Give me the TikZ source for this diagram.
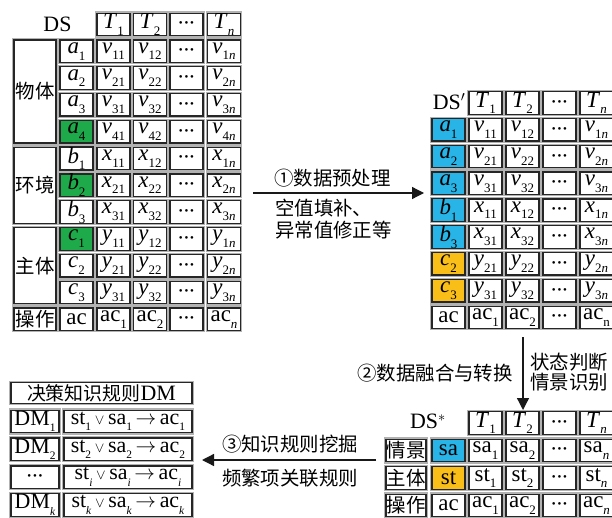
\documentclass[tikz,border=0pt]{standalone}
\usepackage{fontspec}
\setmainfont{Liberation Serif}
\newfontfamily\cjk{Noto Sans CJK SC}
\usetikzlibrary{arrows.meta}
\definecolor{cgreen}{RGB}{30,170,75}
\definecolor{ccyan}{RGB}{40,180,230}
\definecolor{camber}{RGB}{250,190,25}
\newcommand\SB[1]{\raisebox{-0.3em}{\fontsize{13}{13}\selectfont #1}}
\newcommand\SR[1]{\raisebox{-0.3em}{\fontsize{11.5}{11.5}\selectfont #1}}
\newcommand\IV[2]{\textit{#1}\SB{#2}}
\newcommand\RV[2]{#1\SB{#2}}
\newcommand\RR[2]{#1\SR{#2}}
\newcommand\DOTS{{\fontsize{11}{11}\selectfont\textbullet\,\textbullet\,\textbullet}}
\newcommand\OR{\,{\fontsize{14}{14}\selectfont$\vee$}\,}
\newcommand\TO{\,$\rightarrow$\,}
\tikzset{
  cellbox/.style={draw=black!85, line width=1.3bp, fill=white, minimum width=33bp,
    minimum height=22.5bp, inner sep=0pt, font=\fontsize{23}{23}\selectfont,
    preaction={draw=black!30, line width=3.6bp}},
  rulebox/.style={cellbox, font=\fontsize{22}{22}\selectfont},
  cjkbox/.style={cellbox, font=\cjk\fontsize{19.5}{20}\selectfont},
  cjklab/.style={font=\cjk\fontsize{19.5}{22}\selectfont, inner sep=0pt},
  titletext/.style={font=\fontsize{22}{22}\selectfont, inner sep=0pt},
  flow/.style={draw=black!90, line width=1.3bp, -{Triangle[length=12bp,width=12bp]}}
}
\begin{document}
\begin{tikzpicture}[x=1bp,y=-1bp]
\useasboundingbox (0,0) rectangle (612,518);
% ---------------- Table DS ----------------
\node[titletext] (dsA) at (57.5,24.5) {DS};
\node[cellbox] (A-0-1) at (113.5,24.5) {\IV{T}{1}};
\node[cellbox] (A-0-2) at (150,24.5) {\IV{T}{2}};
\node[cellbox] (A-0-3) at (186.5,24.5) {\DOTS};
\node[cellbox] (A-0-4) at (224,24.5) {\IV{T}{\textit{n}}};
% groups
\node[cjkbox, minimum width=42bp, minimum height=102.9bp] (gA1) at (35,91.5) {物体};
\node[cjkbox, minimum width=42bp, minimum height=76.1bp] (gA2) at (35,185.3) {环境};
\node[cjkbox, minimum width=42bp, minimum height=76.1bp] (gA3) at (35,265.7) {主体};
\node[cjkbox, minimum width=42bp] (gA4) at (35,319.3) {操作};
% rows
\node[cellbox] (A-1-0) at (76.5,51.3) {\IV{a}{1}};
\node[cellbox] (A-1-1) at (113.5,51.3) {\IV{v}{11}};
\node[cellbox] (A-1-2) at (150,51.3) {\IV{v}{12}};
\node[cellbox] (A-1-3) at (186.5,51.3) {\DOTS};
\node[cellbox] (A-1-4) at (224,51.3) {\IV{v}{1\textit{n}}};
\node[cellbox] (A-2-0) at (76.5,78.1) {\IV{a}{2}};
\node[cellbox] (A-2-1) at (113.5,78.1) {\IV{v}{21}};
\node[cellbox] (A-2-2) at (150,78.1) {\IV{v}{22}};
\node[cellbox] (A-2-3) at (186.5,78.1) {\DOTS};
\node[cellbox] (A-2-4) at (224,78.1) {\IV{v}{2\textit{n}}};
\node[cellbox] (A-3-0) at (76.5,104.9) {\IV{a}{3}};
\node[cellbox] (A-3-1) at (113.5,104.9) {\IV{v}{31}};
\node[cellbox] (A-3-2) at (150,104.9) {\IV{v}{32}};
\node[cellbox] (A-3-3) at (186.5,104.9) {\DOTS};
\node[cellbox] (A-3-4) at (224,104.9) {\IV{v}{3\textit{n}}};
\node[cellbox, fill=cgreen] (A-4-0) at (76.5,131.7) {\IV{a}{4}};
\node[cellbox] (A-4-1) at (113.5,131.7) {\IV{v}{41}};
\node[cellbox] (A-4-2) at (150,131.7) {\IV{v}{42}};
\node[cellbox] (A-4-3) at (186.5,131.7) {\DOTS};
\node[cellbox] (A-4-4) at (224,131.7) {\IV{v}{4\textit{n}}};
\node[cellbox] (A-5-0) at (76.5,158.5) {\IV{b}{1}};
\node[cellbox] (A-5-1) at (113.5,158.5) {\IV{x}{11}};
\node[cellbox] (A-5-2) at (150,158.5) {\IV{x}{12}};
\node[cellbox] (A-5-3) at (186.5,158.5) {\DOTS};
\node[cellbox] (A-5-4) at (224,158.5) {\IV{x}{1\textit{n}}};
\node[cellbox, fill=cgreen] (A-6-0) at (76.5,185.3) {\IV{b}{2}};
\node[cellbox] (A-6-1) at (113.5,185.3) {\IV{x}{21}};
\node[cellbox] (A-6-2) at (150,185.3) {\IV{x}{22}};
\node[cellbox] (A-6-3) at (186.5,185.3) {\DOTS};
\node[cellbox] (A-6-4) at (224,185.3) {\IV{x}{2\textit{n}}};
\node[cellbox] (A-7-0) at (76.5,212.1) {\IV{b}{3}};
\node[cellbox] (A-7-1) at (113.5,212.1) {\IV{x}{31}};
\node[cellbox] (A-7-2) at (150,212.1) {\IV{x}{32}};
\node[cellbox] (A-7-3) at (186.5,212.1) {\DOTS};
\node[cellbox] (A-7-4) at (224,212.1) {\IV{x}{3\textit{n}}};
\node[cellbox, fill=cgreen] (A-8-0) at (76.5,238.9) {\IV{c}{1}};
\node[cellbox] (A-8-1) at (113.5,238.9) {\IV{y}{11}};
\node[cellbox] (A-8-2) at (150,238.9) {\IV{y}{12}};
\node[cellbox] (A-8-3) at (186.5,238.9) {\DOTS};
\node[cellbox] (A-8-4) at (224,238.9) {\IV{y}{1\textit{n}}};
\node[cellbox] (A-9-0) at (76.5,265.7) {\IV{c}{2}};
\node[cellbox] (A-9-1) at (113.5,265.7) {\IV{y}{21}};
\node[cellbox] (A-9-2) at (150,265.7) {\IV{y}{22}};
\node[cellbox] (A-9-3) at (186.5,265.7) {\DOTS};
\node[cellbox] (A-9-4) at (224,265.7) {\IV{y}{2\textit{n}}};
\node[cellbox] (A-10-0) at (76.5,292.5) {\IV{c}{3}};
\node[cellbox] (A-10-1) at (113.5,292.5) {\IV{y}{31}};
\node[cellbox] (A-10-2) at (150,292.5) {\IV{y}{32}};
\node[cellbox] (A-10-3) at (186.5,292.5) {\DOTS};
\node[cellbox] (A-10-4) at (224,292.5) {\IV{y}{3\textit{n}}};
\node[cellbox] (A-11-0) at (76.5,319.3) {ac};
\node[cellbox] (A-11-1) at (113.5,319.3) {\RV{ac}{1}};
\node[cellbox] (A-11-2) at (150,319.3) {\RV{ac}{2}};
\node[cellbox] (A-11-3) at (186.5,319.3) {\DOTS};
\node[cellbox] (A-11-4) at (224,319.3) {\RV{ac}{\textit{n}}};
% ---------------- Table DS' ----------------
\node[titletext] (dsB) at (449,101.5) {DS$'$};
\node[cellbox] (B-0-1) at (485.5,103) {\IV{T}{1}};
\node[cellbox] (B-0-2) at (522.5,103) {\IV{T}{2}};
\node[cellbox] (B-0-3) at (559.5,103) {\DOTS};
\node[cellbox] (B-0-4) at (596.5,103) {\IV{T}{\textit{n}}};
\node[cellbox, fill=ccyan] (B-1-0) at (448.5,129.8) {\IV{a}{1}};
\node[cellbox] (B-1-1) at (485.5,129.8) {\IV{v}{11}};
\node[cellbox] (B-1-2) at (522.5,129.8) {\IV{v}{12}};
\node[cellbox] (B-1-3) at (559.5,129.8) {\DOTS};
\node[cellbox] (B-1-4) at (596.5,129.8) {\IV{v}{1\textit{n}}};
\node[cellbox, fill=ccyan] (B-2-0) at (448.5,156.6) {\IV{a}{2}};
\node[cellbox] (B-2-1) at (485.5,156.6) {\IV{v}{21}};
\node[cellbox] (B-2-2) at (522.5,156.6) {\IV{v}{22}};
\node[cellbox] (B-2-3) at (559.5,156.6) {\DOTS};
\node[cellbox] (B-2-4) at (596.5,156.6) {\IV{v}{2\textit{n}}};
\node[cellbox, fill=ccyan] (B-3-0) at (448.5,183.4) {\IV{a}{3}};
\node[cellbox] (B-3-1) at (485.5,183.4) {\IV{v}{31}};
\node[cellbox] (B-3-2) at (522.5,183.4) {\IV{v}{32}};
\node[cellbox] (B-3-3) at (559.5,183.4) {\DOTS};
\node[cellbox] (B-3-4) at (596.5,183.4) {\IV{v}{3\textit{n}}};
\node[cellbox, fill=ccyan] (B-4-0) at (448.5,210.2) {\IV{b}{1}};
\node[cellbox] (B-4-1) at (485.5,210.2) {\IV{x}{11}};
\node[cellbox] (B-4-2) at (522.5,210.2) {\IV{x}{12}};
\node[cellbox] (B-4-3) at (559.5,210.2) {\DOTS};
\node[cellbox] (B-4-4) at (596.5,210.2) {\IV{x}{1\textit{n}}};
\node[cellbox, fill=ccyan] (B-5-0) at (448.5,237) {\IV{b}{3}};
\node[cellbox] (B-5-1) at (485.5,237) {\IV{x}{31}};
\node[cellbox] (B-5-2) at (522.5,237) {\IV{x}{32}};
\node[cellbox] (B-5-3) at (559.5,237) {\DOTS};
\node[cellbox] (B-5-4) at (596.5,237) {\IV{x}{3\textit{n}}};
\node[cellbox, fill=camber] (B-6-0) at (448.5,263.8) {\IV{c}{2}};
\node[cellbox] (B-6-1) at (485.5,263.8) {\IV{y}{21}};
\node[cellbox] (B-6-2) at (522.5,263.8) {\IV{y}{22}};
\node[cellbox] (B-6-3) at (559.5,263.8) {\DOTS};
\node[cellbox] (B-6-4) at (596.5,263.8) {\IV{y}{2\textit{n}}};
\node[cellbox, fill=camber] (B-7-0) at (448.5,290.6) {\IV{c}{3}};
\node[cellbox] (B-7-1) at (485.5,290.6) {\IV{y}{31}};
\node[cellbox] (B-7-2) at (522.5,290.6) {\IV{y}{32}};
\node[cellbox] (B-7-3) at (559.5,290.6) {\DOTS};
\node[cellbox] (B-7-4) at (596.5,290.6) {\IV{y}{3\textit{n}}};
\node[cellbox] (B-8-0) at (448.5,317.4) {ac};
\node[cellbox] (B-8-1) at (485.5,317.4) {\RV{ac}{1}};
\node[cellbox] (B-8-2) at (522.5,317.4) {\RV{ac}{2}};
\node[cellbox] (B-8-3) at (559.5,317.4) {\DOTS};
\node[cellbox] (B-8-4) at (596.5,317.4) {\RV{ac}{n}};
% ---------------- Table DS* ----------------
\node[titletext] (dsC) at (428,421.5) {DS$^{*}$};
\node[cellbox] (C-0-1) at (485.5,423) {\IV{T}{1}};
\node[cellbox] (C-0-2) at (522.5,423) {\IV{T}{2}};
\node[cellbox] (C-0-3) at (559.5,423) {\DOTS};
\node[cellbox] (C-0-4) at (596.5,423) {\IV{T}{\textit{n}}};
\node[cjkbox, minimum width=40bp] (C-1-L) at (406,450.5) {情景};
\node[cellbox, fill=ccyan] (C-1-0) at (448.5,450.5) {sa};
\node[cellbox] (C-1-1) at (485.5,450.5) {\RV{sa}{1}};
\node[cellbox] (C-1-2) at (522.5,450.5) {\RV{sa}{2}};
\node[cellbox] (C-1-3) at (559.5,450.5) {\DOTS};
\node[cellbox] (C-1-4) at (596.5,450.5) {\RV{sa}{\textit{n}}};
\node[cjkbox, minimum width=40bp] (C-2-L) at (406,478) {主体};
\node[cellbox, fill=camber] (C-2-0) at (448.5,478) {st};
\node[cellbox] (C-2-1) at (485.5,478) {\RV{st}{1}};
\node[cellbox] (C-2-2) at (522.5,478) {\RV{st}{2}};
\node[cellbox] (C-2-3) at (559.5,478) {\DOTS};
\node[cellbox] (C-2-4) at (596.5,478) {\RV{st}{\textit{n}}};
\node[cjkbox, minimum width=40bp] (C-3-L) at (406,505.5) {操作};
\node[cellbox] (C-3-0) at (448.5,505.5) {ac};
\node[cellbox] (C-3-1) at (485.5,505.5) {\RV{ac}{1}};
\node[cellbox] (C-3-2) at (522.5,505.5) {\RV{ac}{2}};
\node[cellbox] (C-3-3) at (559.5,505.5) {\DOTS};
\node[cellbox] (C-3-4) at (596.5,505.5) {\RV{ac}{\textit{n}}};
% ---------------- DM table ----------------
\node[rulebox, minimum width=181bp, minimum height=21bp] (D-T) at (101.5,393)
  {{\cjk\fontsize{19}{19}\selectfont 决策知识规则}DM};
\node[rulebox, minimum width=48bp] (D-1-0) at (35,421.5) {\RR{DM}{1}};
\node[rulebox, minimum width=128bp] (D-1-1) at (128,421.5) {\RR{st}{1}\OR\RR{sa}{1}\TO\RR{ac}{1}};
\node[rulebox, minimum width=48bp] (D-2-0) at (35,449.3) {\RR{DM}{2}};
\node[rulebox, minimum width=128bp] (D-2-1) at (128,449.3) {\RR{st}{2}\OR\RR{sa}{2}\TO\RR{ac}{2}};
\node[rulebox, minimum width=48bp] (D-3-0) at (35,477.1) {\DOTS};
\node[rulebox, minimum width=128bp] (D-3-1) at (128,477.1) {\RR{st}{\textit{i}}\OR\RR{sa}{\textit{i}}\TO\RR{ac}{\textit{i}}};
\node[rulebox, minimum width=48bp] (D-4-0) at (35,505) {\RR{DM}{\textit{k}}};
\node[rulebox, minimum width=128bp] (D-4-1) at (128,505) {\RR{st}{\textit{k}}\OR\RR{sa}{\textit{k}}\TO\RR{ac}{\textit{k}}};
% ---------------- arrows ----------------
\coordinate (p1s) at (253,193);
\coordinate (p1e) at (424,193);
\draw[flow] (p1s) -- (p1e);
\node[cjklab, anchor=west] (l1a) at (274,178) {①数据预处理};
\node[cjklab, anchor=west] (l1b) at (275,208) {空值填补、};
\node[cjklab, anchor=west] (l1c) at (275,230) {异常值修正等};
\coordinate (p2s) at (523,337);
\coordinate (p2e) at (523,410);
\draw[flow] (p2s) -- (p2e);
\node[cjklab, anchor=east] (l2a) at (513,373) {②数据融合与转换};
\node[cjklab, anchor=west] (l2b) at (530,362) {状态判断};
\node[cjklab, anchor=west] (l2c) at (530,382) {情景识别};
\coordinate (p3s) at (376,460);
\coordinate (p3e) at (202,460);
\draw[flow] (p3s) -- (p3e);
\node[cjklab] (l3a) at (290,444) {③知识规则挖掘};
\node[cjklab] (l3b) at (290,478) {频繁项关联规则};
\end{tikzpicture}
\end{document}
